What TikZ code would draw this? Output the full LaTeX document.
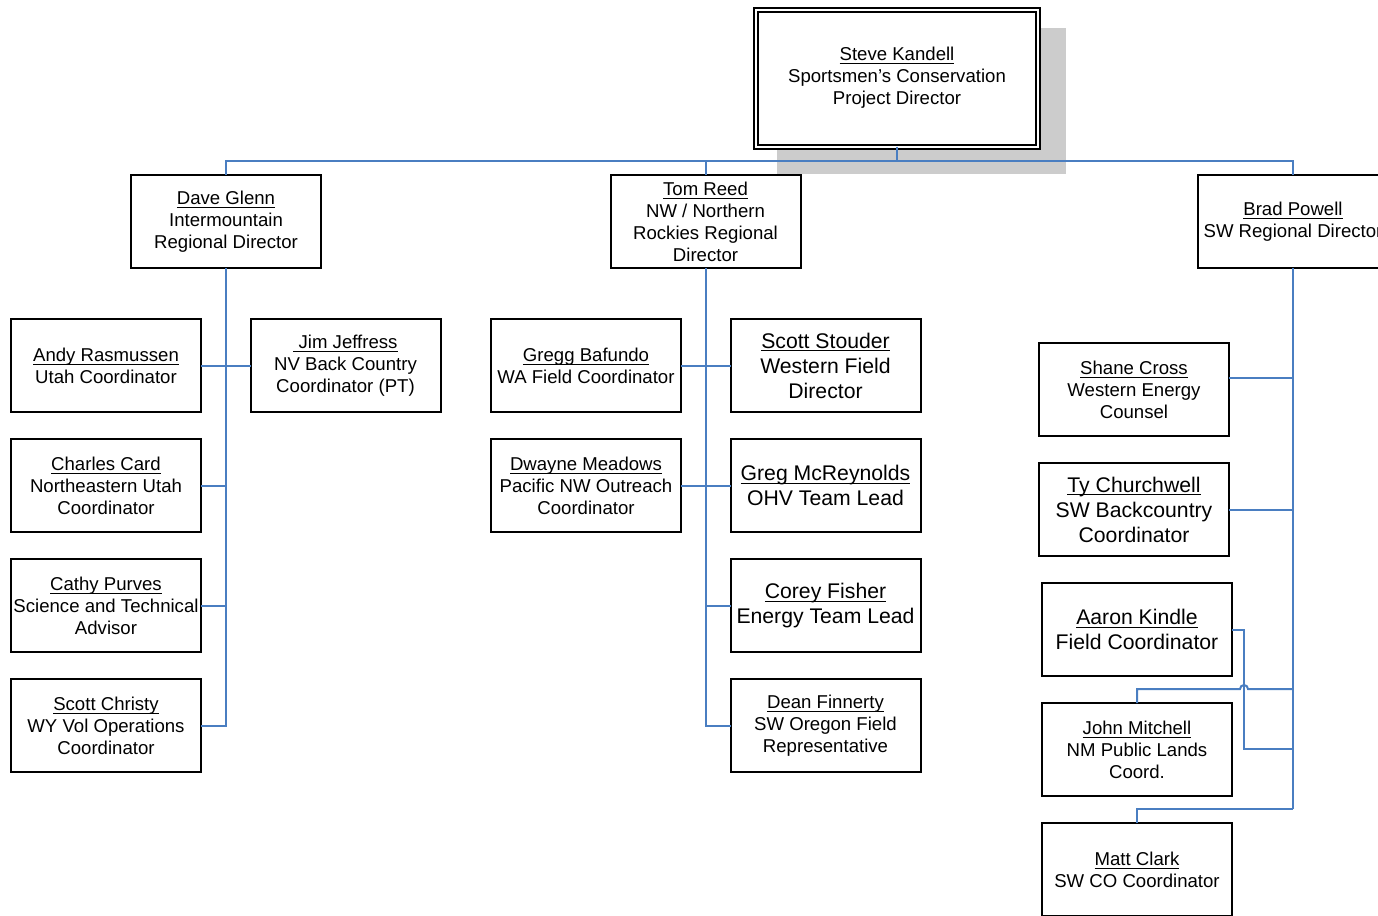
\documentclass[tikz,border=0pt]{standalone}
\usepackage{fontspec}
\setmainfont{Liberation Sans}
\usepackage{xcolor}
\usepackage{tikz}
\definecolor{linkblue}{RGB}{74,126,193}
\definecolor{shadowgray}{RGB}{204,204,204}
\newcommand{\uname}[1]{\underline{\smash{#1}}\vphantom{#1}}

\begin{document}
\begin{tikzpicture}[x=0.5pt,y=-0.5pt,
    person/.style={draw,line width=1pt,minimum width=95pt,minimum height=46.5pt,inner sep=0pt,outer sep=0pt,align=center,font=\fontsize{9.3}{11}\selectfont},
    bigperson/.style={person,font=\fontsize{10.6}{12.5}\selectfont},
    link/.style={draw=linkblue,line width=1pt}]
    \useasboundingbox (0,0) rectangle (1378,916);
    \clip (0,0) rectangle (1378,916);
    \fill[shadowgray] (777,28) rectangle (1066,174);
    \node[person,double,double distance=1pt,fill=white,minimum width=141pt,minimum height=68.5pt] (kandell) at (897,78) {\uname{Steve Kandell}\\Sportsmen’s Conservation\\Project Director};
    % regional directors
    \node[person] (glenn) at (226,221.5) {\uname{Dave Glenn}\\Intermountain\\Regional Director};
    \node[person] (reed) at (705.5,221.5) {\uname{Tom Reed}\\NW / Northern\\Rockies Regional\\Director};
    \node[person] (powell) at (1293,221.5) {\uname{Brad Powell}\\SW Regional Director};
    % intermountain
    \node[person] (rasmussen) at (106,365.5) {\uname{Andy Rasmussen}\\Utah Coordinator};
    \node[person] (jeffress) at (345.5,365.5) {\uname{~Jim Jeffress}\\NV Back Country\\Coordinator (PT)};
    \node[person] (card) at (106,485.5) {\uname{Charles Card}\\Northeastern Utah\\Coordinator};
    \node[person] (purves) at (106,605.5) {\uname{Cathy Purves}\\Science and Technical\\Advisor};
    \node[person] (christy) at (106,725.5) {\uname{Scott Christy}\\WY Vol Operations\\Coordinator};
    % northern rockies
    \node[person] (bafundo) at (586,365.5) {\uname{Gregg Bafundo}\\WA Field Coordinator};
    \node[bigperson] (stouder) at (825.5,365.5) {\uname{Scott Stouder}\\Western Field\\Director};
    \node[person] (meadows) at (586,485.5) {\uname{Dwayne Meadows}\\Pacific NW Outreach\\Coordinator};
    \node[bigperson] (mcreynolds) at (825.5,485.5) {\uname{Greg McReynolds}\\OHV Team Lead};
    \node[bigperson] (fisher) at (825.5,605.5) {\uname{Corey Fisher}\\Energy Team Lead};
    \node[person] (finnerty) at (825.5,725.5) {\uname{Dean Finnerty}\\SW Oregon Field\\Representative};
    % southwest
    \node[person] (cross) at (1134,389.5) {\uname{Shane Cross}\\Western Energy\\Counsel};
    \node[bigperson] (churchwell) at (1134,509.5) {\uname{Ty Churchwell}\\SW Backcountry\\Coordinator};
    \node[bigperson] (kindle) at (1137,629.5) {\uname{Aaron Kindle}\\Field Coordinator};
    \node[person] (mitchell) at (1137,749.5) {\uname{John Mitchell}\\NM Public Lands\\Coord.};
    \node[person] (clark) at (1137,869.5) {\uname{Matt Clark}\\SW CO Coordinator};
    % connectors
    \coordinate (bus) at (897,161);
    \draw[link] (kandell.south) -- (bus);
    \draw[link] (bus) -| (glenn.north);
    \draw[link] (bus) -| (reed.north);
    \draw[link] (bus) -| (powell.north);
    \draw[link] (rasmussen.east) -- (jeffress.west);
    \draw[link] (card.east) -| (glenn.south);
    \draw[link] (purves.east) -| (glenn.south);
    \draw[link] (christy.east) -| (glenn.south);
    \draw[link] (bafundo.east) -- (stouder.west);
    \draw[link] (meadows.east) -- (mcreynolds.west);
    \draw[link] (fisher.west) -| (reed.south);
    \draw[link] (finnerty.west) -| (reed.south);
    \coordinate (kindlejoin) at (1293,749);
    \coordinate (hop) at (1240,689);
    \coordinate (mitchelljoin) at (1293,689);
    \coordinate (clarkjoin) at (1293,809);
    \draw[link] (powell.south) -- (clarkjoin);
    \draw[link] ([yshift=6pt]cross.east) -| (powell.south);
    \draw[link] (churchwell.east) -| (powell.south);
    \draw[link] (kindle.east) -- ++(6pt,0) |- (kindlejoin);
    \draw[link] (mitchell.north) |- (hop) arc[start angle=180,end angle=0,radius=2pt] -- (mitchelljoin);
    \draw[link] (clark.north) |- (clarkjoin);
\end{tikzpicture}
\end{document}
